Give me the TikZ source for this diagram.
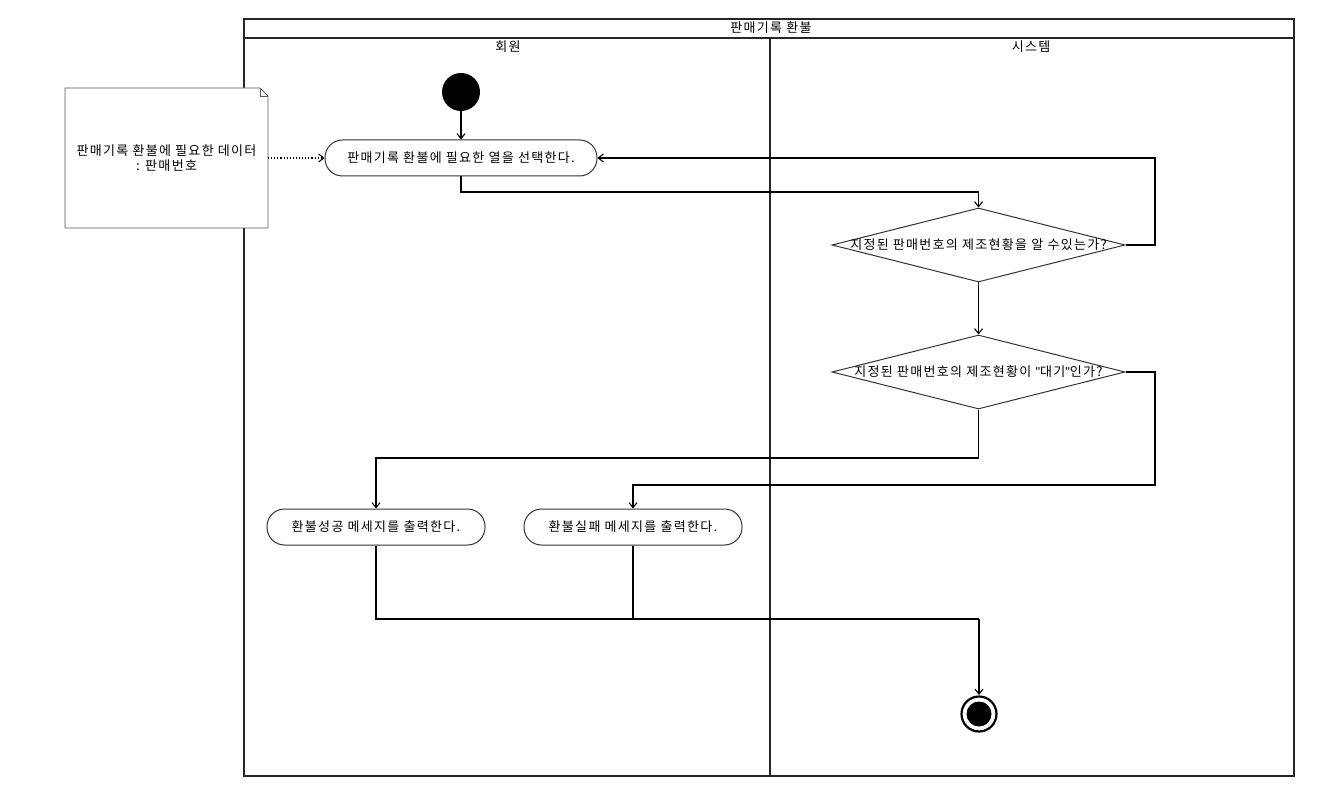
\documentclass[tikz,border=0pt]{standalone}
\usepackage{fontspec}
\setmainfont{Noto Sans CJK KR}[LetterSpace=10, Ligatures=ResetAll]
\newfontfamily\qfont{Liberation Sans}[Ligatures=ResetAll]
\newcommand{\sq}{{\qfont\char34}}
\usetikzlibrary{arrows.meta,shapes.geometric}
\begin{document}
\begin{tikzpicture}[x=1pt,y=-1pt,
  font=\fontsize{13}{15.5}\selectfont,
  frame/.style={draw=black!85, line width=1.3pt},
  actbox/.style={draw=black!80, line width=1pt, rectangle, rounded corners=17.5pt, minimum width=#1, minimum height=36pt, inner sep=0pt},
  dia/.style={draw=black!80, line width=1pt, diamond, minimum width=293pt, minimum height=74pt, inner sep=0pt},
  flow/.style={draw=black, line width=1.1pt, -{Straight Barb[length=5pt,width=8pt]}},
  plain/.style={draw=black, line width=1.1pt},
  lbl/.style={inner sep=0pt}]
\useasboundingbox (0,0) rectangle (1344,802);
\fill[white] (0,0) rectangle (1344,802);
% pool and lanes
\draw[frame] (244,19) rectangle (1294,776);
\draw[frame] (244,38) -- (1294,38);
\draw[frame] (770,38) -- (770,776);
\node[lbl] (title) at (771,28) {판매기록 환불};
\node[lbl] (lane1) at (508,47) {회원};
\node[lbl] (lane2) at (1031,47) {시스템};
% note
\draw[draw=black!65, line width=0.8pt, fill=white] (65,88) -- (260,88) -- (268,96) -- (268,228) -- (65,228) -- cycle;
\draw[draw=black!65, line width=0.6pt] (260,88) -- (260,96) -- (268,96);
\node[lbl, align=center] (note) at (166.5,158) {판매기록 환불에 필요한 데이터\\: 판매번호};
\coordinate (noteE) at (268,158);
% start
\fill[black] (461,92) circle (19);
\coordinate (start) at (461,111);
% actions
\node[actbox=272pt] (a1) at (461,158) {판매기록 환불에 필요한 열을 선택한다.};
\node[dia] (d1) at (978.5,245) {};
\node[lbl] (d1t) at (978.5,245) {지정된 판매번호의 제조현황을 알 수있는가?};
\node[dia] (d2) at (978.5,372) {};
\node[lbl] (d2t) at (978.5,372) {지정된 판매번호의 제조현황이 \sq 대기\sq 인가?};
\node[actbox=218pt] (ok) at (376,527) {환불성공 메세지를 출력한다.};
\node[actbox=218pt] (ng) at (633,527) {환불실패 메세지를 출력한다.};
% end
\draw[black, line width=2.2pt, fill=white] (979,714) circle (17.5);
\fill[black] (979,714) circle (12.5);
\coordinate (endtop) at (979,695);
% connectors
\draw[flow] (start) -- (a1.north);
\draw[flow, dotted] (noteE) -- (a1.west);
\draw[flow] (a1.south) |- (978.5,192) -- (d1.north);
\draw[flow] (d1.east) -- (1155,245) |- (a1.east);
\draw[flow] (d1.south) -- (d2.north);
\draw[flow] (d2.south) -- (978.5,458) -| (ok.north);
\draw[flow] (d2.east) -- (1155,372) |- (633,485) -- (ng.north);
\draw[plain] (ok.south) |- (979,619);
\draw[plain] (ng.south) -- (633,619);
\draw[flow] (979,619) -- (endtop);
\end{tikzpicture}
\end{document}
